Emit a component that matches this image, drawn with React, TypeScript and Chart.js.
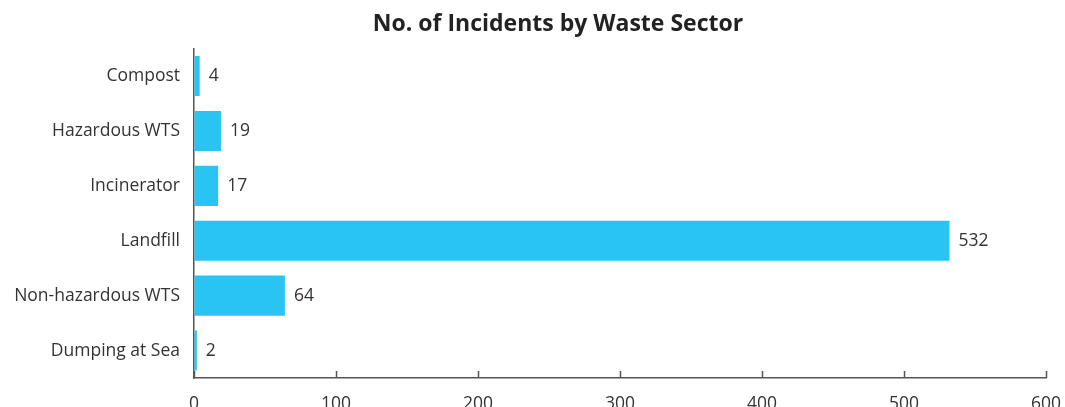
import React, { useEffect, useRef } from "react";
import { Chart, registerables } from "chart.js";

Chart.register(...registerables);

const categories = ["Compost", "Hazardous WTS", "Incinerator", "Landfill", "Non-hazardous WTS", "Dumping at Sea"];
const incidents = [4, 19, 17, 532, 64, 2];
const xMin = 0;
const xMax = 600;
const xStep = 100;
const chartTitle = "No. of Incidents by Waste Sector";

const FONT = "'Open Sans', 'Noto Sans', sans-serif";
const TEXT = "#333333";
const AXIS = "#555555";
const BAR = "#29C4F1";

const unclipYLabels = {
  id: "unclipYLabels",
  afterLayout(chart: any) {
    chart.scales.y.left = 0;
  },
};

const tickMarksPlugin = {
  id: "innerTicks",
  afterDraw(chart: any) {
    const xs = chart.scales.x;
    const ctx = chart.ctx;
    const bottom = chart.chartArea.bottom;
    ctx.save();
    ctx.strokeStyle = AXIS;
    ctx.lineWidth = 1.5;
    xs.ticks.forEach((t: any) => {
      const px = Math.round(xs.getPixelForValue(t.value)) + 0.5;
      ctx.beginPath();
      ctx.moveTo(px, bottom);
      ctx.lineTo(px, bottom - 7);
      ctx.stroke();
    });
    ctx.restore();
  },
};

const valueLabelsPlugin = {
  id: "valueLabels",
  afterDatasetsDraw(chart: any) {
    const ctx = chart.ctx;
    const meta = chart.getDatasetMeta(0);
    const data = chart.data.datasets[0].data;
    ctx.save();
    ctx.fillStyle = TEXT;
    ctx.font = `17.5px ${FONT}`;
    ctx.textAlign = "left";
    ctx.textBaseline = "middle";
    meta.data.forEach((bar: any, i: number) => {
      ctx.fillText(String(data[i]), bar.x + 9, bar.y);
    });
    ctx.restore();
  },
};

export default function App() {
  const ref = useRef<HTMLCanvasElement | null>(null);

  useEffect(() => {
    document.body.style.margin = "0";
    document.body.style.overflow = "hidden";
    if (!ref.current) return;
    const chart = new Chart(ref.current, {
      type: "bar",
      data: {
        labels: categories,
        datasets: [
          {
            data: incidents,
            backgroundColor: BAR,
            borderWidth: 0,
            barPercentage: 0.73,
            categoryPercentage: 1,
          },
        ],
      },
      options: {
        indexAxis: "y",
        responsive: false,
        animation: false,
        layout: { padding: { left: 51, right: 0, top: 0, bottom: 9 } },
        plugins: {
          legend: { display: false },
          tooltip: { enabled: false },
          title: {
            display: true,
            text: chartTitle,
            color: "#222222",
            font: { family: FONT, size: 23, weight: "bold" },
            padding: { top: 11, bottom: 10 },
          },
        },
        scales: {
          x: {
            type: "linear",
            min: xMin,
            max: xMax,
            ticks: {
              stepSize: xStep,
              color: TEXT,
              font: { family: FONT, size: 17.5 },
              padding: 16,
            },
            grid: { display: true, drawOnChartArea: false, drawTicks: false },
            border: { display: true, color: AXIS, width: 1.5 },
            afterFit(scale: any) {
              scale.paddingRight = 19;
            },
          },
          y: {
            type: "category",
            ticks: {
              color: TEXT,
              font: { family: FONT, size: 17.5 },
              padding: 14,
              autoSkip: false,
            },
            grid: { display: false, drawTicks: false },
            border: { display: true, color: AXIS, width: 1.5 },
            afterFit(scale: any) {
              scale.width = 143;
            },
          },
        },
      },
      plugins: [unclipYLabels, tickMarksPlugin, valueLabelsPlugin],
    });
    return () => chart.destroy();
  }, []);

  return (
    <div style={{ width: 1065, height: 440 }}>
      <canvas ref={ref} width={1065} height={440} />
    </div>
  );
}
